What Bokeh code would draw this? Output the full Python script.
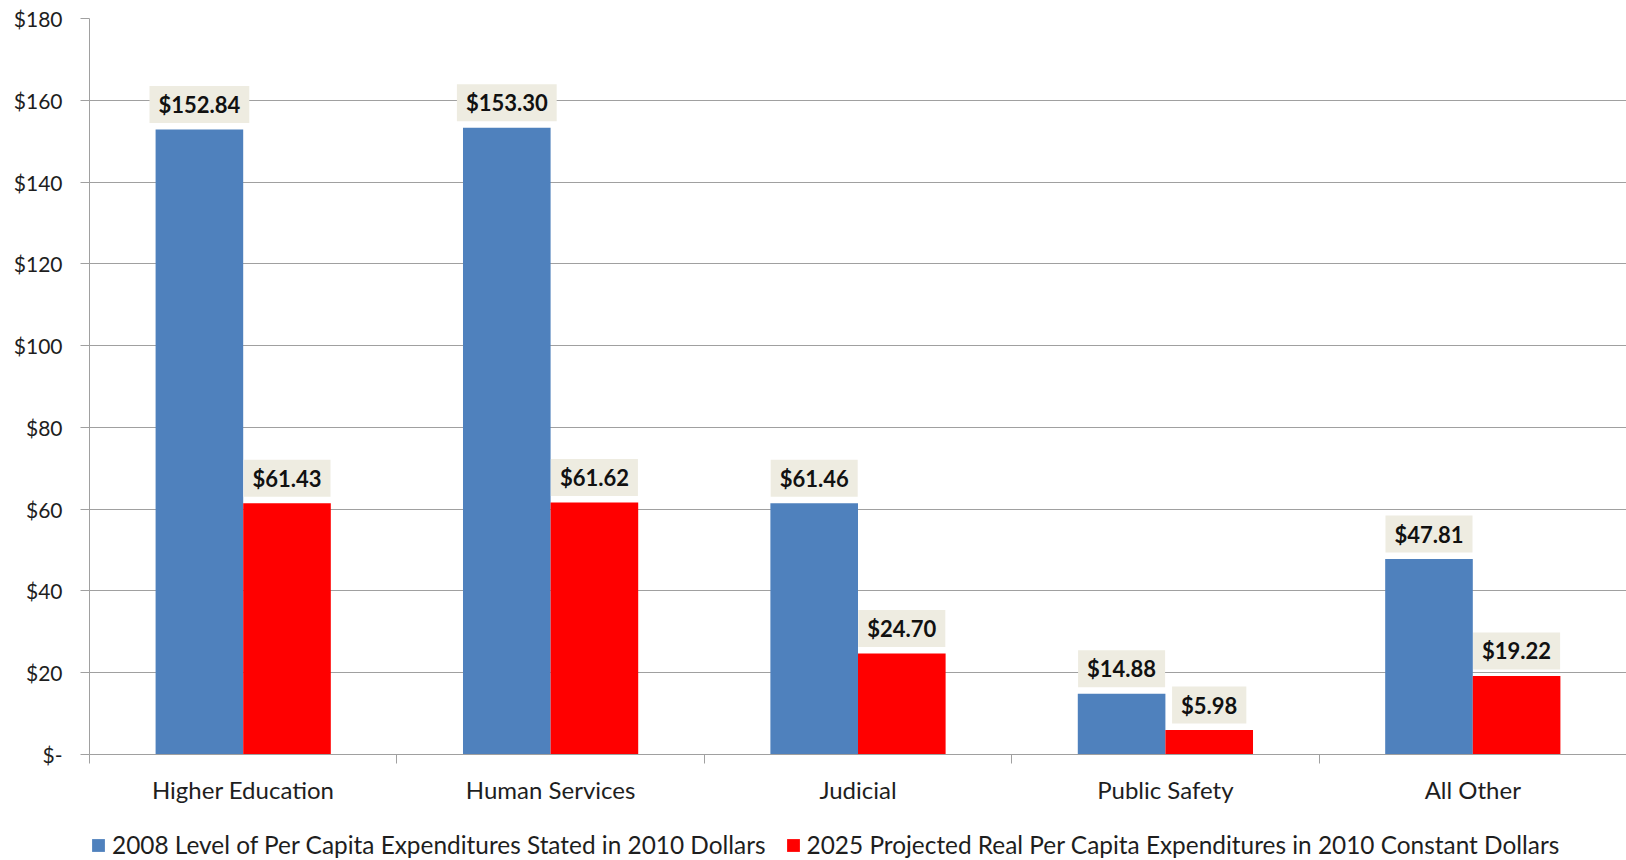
from bokeh.plotting import figure
from bokeh.models import (Range1d, FixedTicker, Legend, LegendItem, ColumnDataSource)
from bokeh.layouts import column
from bokeh.core.properties import value
from bokeh.embed import file_html
from bokeh.resources import INLINE

categories = ["Higher Education", "Human Services", "Judicial", "Public Safety", "All Other"]
v2008 = [152.84, 153.30, 61.46, 14.88, 47.81]
v2025 = [61.43, 61.62, 24.70, 5.98, 19.22]
series_names = ["2008 Level of Per Capita Expenditures Stated in 2010 Dollars",
                "2025 Projected Real Per Capita Expenditures in 2010 Constant Dollars"]
y_ticks = [0, 20, 40, 60, 80, 100, 120, 140, 160, 180]

FONT = "Lato"
TXT = "#1e1e1e"
GRID = "#a0a0a0"
BLUE = "#4F81BD"
RED = "#FF0000"
LABEL_BG = "#EEECE1"
BAR_W = 0.285

n = len(categories)
centers = [i + 1 for i in range(n)]

p = figure(width=1626, height=816, output_backend="svg", toolbar_location=None,
           x_range=Range1d(0.5, n + 0.5), y_range=Range1d(0, 180),
           min_border_left=89, min_border_right=0, min_border_top=18, min_border_bottom=62)
p.outline_line_color = None
p.background_fill_color = "white"
p.border_fill_color = "white"

src1 = ColumnDataSource(dict(x=[c - BAR_W / 2 for c in centers], top=v2008,
                             lab=[f"${v:.2f}" for v in v2008]))
src2 = ColumnDataSource(dict(x=[c + BAR_W / 2 for c in centers], top=v2025,
                             lab=[f"${v:.2f}" for v in v2025]))

r1 = p.vbar(x="x", top="top", bottom=0, width=BAR_W, source=src1, fill_color=BLUE, line_color=None)
r2 = p.vbar(x="x", top="top", bottom=0, width=BAR_W, source=src2, fill_color=RED, line_color=None)

for src in (src1, src2):
    p.text(x="x", y="top", text="lab", source=src, y_offset=-25,
           text_align="center", text_baseline="middle",
           text_font=value(FONT), text_font_style="bold", text_font_size="22px",
           text_color="#111111",
           background_fill_color=LABEL_BG, padding=[9, 5])

# y axis
ya = p.yaxis[0]
ya.ticker = FixedTicker(ticks=y_ticks)
ya.major_label_overrides = {t: ("$-" if t == 0 else f"${t}") for t in y_ticks}
ya.axis_line_color = GRID
ya.major_tick_line_color = GRID
ya.major_tick_out = 9
ya.major_tick_in = 0
ya.minor_tick_line_color = None
ya.major_label_standoff = 18
ya.major_label_text_font = FONT
ya.major_label_text_font_size = "21px"
ya.major_label_text_color = TXT

# x axis
xa = p.xaxis[0]
xa.ticker = FixedTicker(ticks=centers, minor_ticks=[c - 0.5 for c in centers] + [n + 0.5])
xa.major_label_overrides = {c: cat for c, cat in zip(centers, categories)}
xa.axis_line_color = GRID
xa.major_tick_line_color = None
xa.major_tick_out = 0
xa.major_tick_in = 0
xa.minor_tick_line_color = GRID
xa.minor_tick_out = 9
xa.minor_tick_in = 0
xa.major_label_standoff = 11
xa.major_label_text_font = FONT
xa.major_label_text_font_size = "24px"
xa.major_label_text_color = TXT

p.xgrid.grid_line_color = None
p.ygrid.grid_line_color = GRID
p.ygrid.grid_line_width = 1

# legend strip below the chart (swatch renderers sit outside the strip's visible range)
pl = figure(width=1626, height=44, output_backend="svg", toolbar_location=None,
            x_axis_location=None, y_axis_location=None,
            x_range=Range1d(0, 1), y_range=Range1d(0, 1),
            min_border_left=0, min_border_right=0, min_border_top=0, min_border_bottom=0)
pl.outline_line_color = None
pl.xgrid.grid_line_color = None
pl.ygrid.grid_line_color = None
l1 = pl.vbar(x="x", top="top", bottom="bottom", width=0.01,
             source=ColumnDataSource(dict(x=[-5], top=[-5], bottom=[-6])),
             fill_color=BLUE, line_color=None)
l2 = pl.vbar(x="x", top="top", bottom="bottom", width=0.01,
             source=ColumnDataSource(dict(x=[-5], top=[-5], bottom=[-6])),
             fill_color=RED, line_color=None)
legend = Legend(items=[LegendItem(label=series_names[0], renderers=[l1], index=0),
                       LegendItem(label=series_names[1], renderers=[l2], index=0)],
                orientation="horizontal", location=(1, 1),
                label_text_font=FONT, label_text_font_size="24.4px", label_text_color=TXT,
                glyph_width=16, glyph_height=16, label_standoff=6, spacing=19,
                padding=0, margin=0, border_line_color=None, background_fill_alpha=0)
pl.add_layout(legend, "center")

layout = column(p, pl, spacing=0)
open("out.html", "w").write(file_html(layout, INLINE))
